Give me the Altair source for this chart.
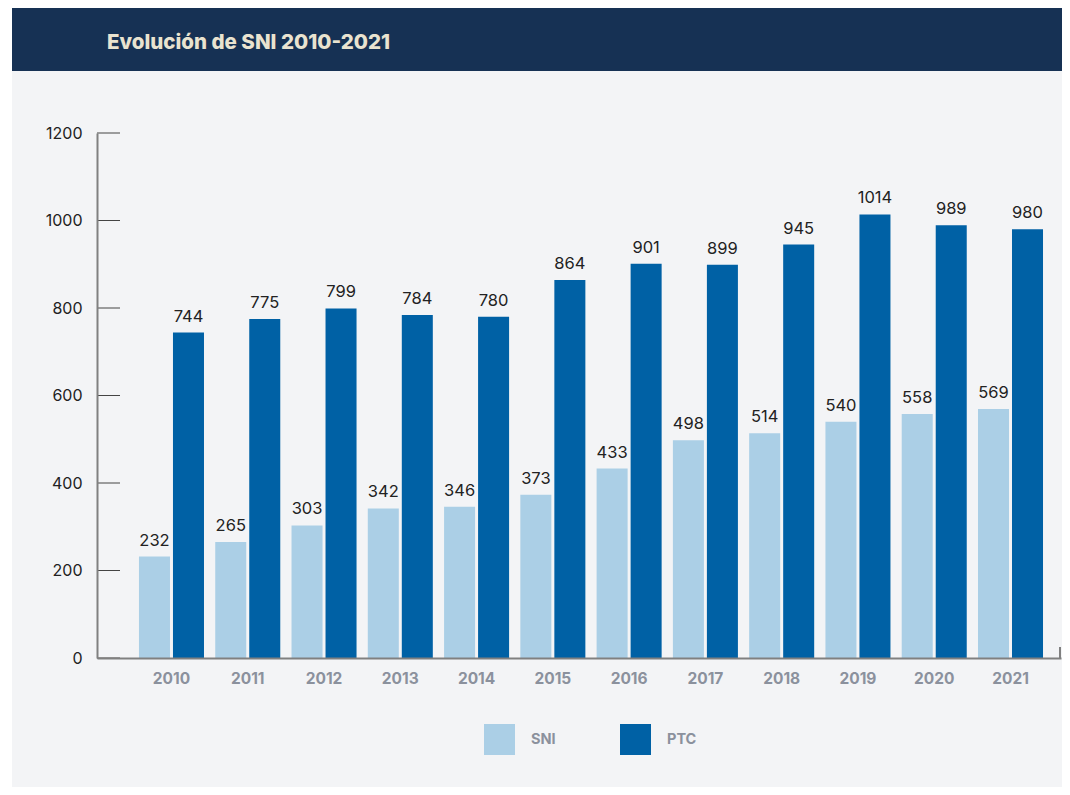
import altair as alt
import pandas as pd

years = ["2010", "2011", "2012", "2013", "2014", "2015", "2016", "2017", "2018", "2019", "2020", "2021"]
sni = [232, 265, 303, 342, 346, 373, 433, 498, 514, 540, 558, 569]
ptc = [744, 775, 799, 784, 780, 864, 901, 899, 945, 1014, 989, 980]
series = ["SNI", "PTC"]
colors = ["#abcfe6", "#0061a5"]
y_ticks = [0, 200, 400, 600, 800, 1000, 1200]
title_text = "Evolución de SNI 2010-2021"

rows = []
for i, yr in enumerate(years):
    rows.append({"year": yr, "serie": "SNI", "value": sni[i]})
    rows.append({"year": yr, "serie": "PTC", "value": ptc[i]})
df = pd.DataFrame(rows)

W, H = 964, 525
PAD_L, PAD_T, PAD_R, PAD_B = 89, 125, 1, 129

yscale = alt.Scale(domain=[0, 1200], nice=False)
xscale = alt.Scale(paddingInner=0.1475, paddingOuter=0.393, align=0.7)
offscale = alt.Scale(paddingInner=0.088, paddingOuter=0)

one = alt.Data(values=[{"a": 1}])

# gray panel and navy header
panel = alt.Chart(one).mark_rect(color="#f3f4f6").encode(
    x=alt.value(-85), x2=alt.value(W + PAD_R), y=alt.value(-63), y2=alt.value(H + PAD_B)
)
header = alt.Chart(one).mark_rect(color="#163154").encode(
    x=alt.value(-85), x2=alt.value(W + PAD_R), y=alt.value(-PAD_T), y2=alt.value(-62)
)
title = alt.Chart(one).mark_text(
    text=title_text, align="left", baseline="alphabetic", font="Inter",
    fontWeight=800, fontSize=20.5, color="#e9e3d0"
).encode(x=alt.value(10), y=alt.value(-84))

bars = alt.Chart(df).mark_bar().encode(
    x=alt.X("year:N", scale=xscale, sort=years,
            axis=alt.Axis(title=None, labelAngle=0, ticks=False, domainColor="#808080",
                          domainWidth=2, labelFont="Inter", labelFontWeight="bold",
                          labelFontSize=15.5, labelColor="#8b919d", labelPadding=13,
                          zindex=1)),
    xOffset=alt.XOffset("serie:N", sort=series, scale=offscale),
    y=alt.Y("value:Q", scale=yscale,
            axis=alt.Axis(title=None, values=y_ticks, ticks=False, grid=False, format="d",
                          domainColor="#808080", domainWidth=2, labelFont="Inter",
                          labelFontSize=16, labelColor="#222222", labelPadding=15,
                          zindex=1)),
    color=alt.Color("serie:N", sort=series,
                    scale=alt.Scale(domain=series, range=colors),
                    legend=alt.Legend(title=None, orient="none", legendX=387, legendY=591,
                                      direction="horizontal", symbolType="square",
                                      symbolSize=961, symbolStrokeWidth=0,
                                      labelOffset=16, columnPadding=64,
                                      labelFont="Inter", labelFontWeight="bold",
                                      labelFontSize=14.5, labelColor="#8b919d")),
)

labels = alt.Chart(df).mark_text(
    baseline="bottom", dy=-8, font="Inter", fontSize=16.5, color="#222222"
).encode(
    x=alt.X("year:N", scale=xscale, sort=years),
    xOffset=alt.XOffset("serie:N", sort=series, scale=offscale),
    y=alt.Y("value:Q", scale=yscale),
    text=alt.Text("value:Q"),
)

tick_df = pd.DataFrame({"v": y_ticks})
ticks = alt.Chart(tick_df).mark_rule(color="#444444", strokeWidth=1).encode(
    y=alt.Y("v:Q", scale=yscale), x=alt.value(0), x2=alt.value(23)
)
end_tick = alt.Chart(one).mark_rule(color="#808080", strokeWidth=2).encode(
    x=alt.value(W - 1), y=alt.value(H - 11), y2=alt.value(H)
)

chart = alt.layer(panel, header, title, bars, labels, ticks, end_tick).properties(
    width=W, height=H,
    autosize=alt.AutoSizeParams(type="none"),
    padding={"left": PAD_L, "top": PAD_T, "right": PAD_R, "bottom": PAD_B},
    background="white",
).configure_view(stroke=None)

chart.save("out.html", embed_options={"renderer": "svg", "actions": False})
